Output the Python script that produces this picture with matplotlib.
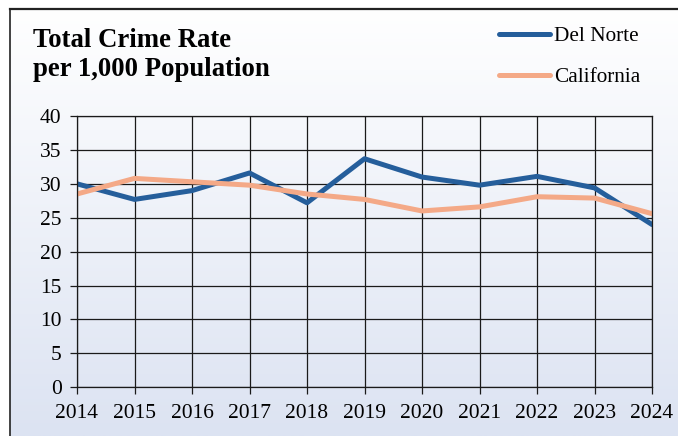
import numpy as np
import matplotlib.pyplot as plt
from matplotlib.colors import LinearSegmentedColormap

years = [2014, 2015, 2016, 2017, 2018, 2019, 2020, 2021, 2022, 2023, 2024]
del_norte = [30.0, 27.7, 29.0, 31.6, 27.2, 33.7, 31.0, 29.8, 31.1, 29.4, 24.0]
california = [28.5, 30.8, 30.3, 29.8, 28.5, 27.7, 26.0, 26.6, 28.1, 27.9, 25.6]

plt.rcParams['font.family'] = ['Liberation Serif', 'DejaVu Serif']

fig = plt.figure(figsize=(6.78, 4.36), dpi=100)

# gradient background panel with border on left/top
bg = fig.add_axes([10 / 678, 0, 1 - 10 / 678, 1 - 9 / 436])
cmap = LinearSegmentedColormap.from_list('bg', ['#ffffff', '#dce3f2'])
grad = np.linspace(0, 1, 256).reshape(-1, 1)
bg.imshow(grad, cmap=cmap, aspect='auto', extent=[0, 1, 0, 1], origin='upper')
bg.set_xticks([])
bg.set_yticks([])
for side in ['right', 'bottom']:
    bg.spines[side].set_visible(False)
bg.spines['left'].set_linewidth(1.2)
bg.spines['top'].set_linewidth(1.6)
bg.spines['left'].set_color('#222222')
bg.spines['top'].set_color('#222222')

ax = fig.add_axes([77 / 678, 1 - 387.3 / 436, (652 - 77) / 678, (387.3 - 116) / 436])
ax.patch.set_alpha(0)
ax.plot(years, del_norte, color='#255e9b', lw=3.6, label='Del Norte',
        solid_capstyle='round', solid_joinstyle='round')
ax.plot(years, california, color='#f4a987', lw=3.6, label='California',
        solid_capstyle='round', solid_joinstyle='round')

ax.set_xlim(2014, 2024)
ax.set_ylim(0, 40)
ax.set_xticks(years)
ax.set_yticks(range(0, 41, 5))
ax.grid(True, color='#1a1a1a', lw=0.9)
ax.set_axisbelow(True)
for s in ax.spines.values():
    s.set_linewidth(0.9)
    s.set_color('#1a1a1a')
ax.tick_params(labelsize=15.5, length=5, width=0.9, color='#1a1a1a')
ax.tick_params(axis='x', pad=7)
ax.tick_params(axis='y', pad=6)

fig.text(33 / 678, 1 - 76 / 436, 'Total Crime Rate\nper 1,000 Population',
         fontsize=19.3, fontweight='bold', va='baseline', ha='left', linespacing=1.22)

fig.legend(loc='upper left', bbox_to_anchor=(490 / 678, 1 - 18 / 436), frameon=False,
           fontsize=15.3, handlelength=2.4, handletextpad=0.2, labelspacing=1.0,
           borderaxespad=0)

fig.savefig('out.png', dpi=100)
